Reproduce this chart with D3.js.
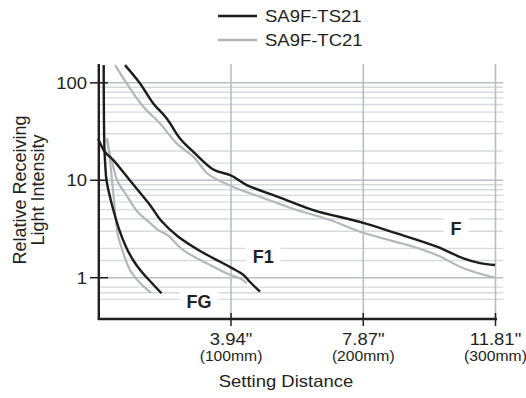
<!DOCTYPE html>
<html><head><meta charset="utf-8">
<script src="https://cdn.jsdelivr.net/npm/d3@7"></script>
<style>
body{margin:0;background:#fff}
svg{display:block}
text{font-family:"Liberation Sans",Arial,Helvetica,sans-serif;fill:#231f20}
</style>
</head><body>
<svg id="chart" width="526" height="398"></svg>
<script>
// ---------- data ----------
const seriesNames = ["SA9F-TS21", "SA9F-TC21"];
const xTickValues = [100, 200, 300];
const xTickInches = ['3.94"', '7.87"', '11.81"'];
const xTickMm = ["(100mm)", "(200mm)", "(300mm)"];
const yTickValues = [1, 10, 100];
const yTickLabels = ["1", "10", "100"];
const yGridValues = [0.6, 0.7, 0.8, 1, 1.5, 2, 3, 4, 5, 6, 7, 8, 9, 10, 15, 20, 30, 40, 50, 60, 70, 80, 90, 100];
const xDomain = [0, 300];
const yDomain = [0.377, 156];

// [setting distance (mm), relative receiving light intensity]
const fTS21 = [[19.8,152],[31.2,98.6],[41.2,61.5],[51.4,43.1],[61.4,26.9],[71.5,19.6],[86.6,12.9],[100,11.2],[111.9,8.93],[137.1,6.65],[162.2,4.95],[200,3.66],[225.3,2.85],[255.6,2.08],[275.7,1.58],[288.3,1.41],[299.7,1.35]];
const fTC21 = [[12.3,152],[21.1,98.6],[33.7,56.7],[46.3,38.3],[58.9,23.9],[71.5,17.4],[82.6,11.6],[100,8.72],[121.9,6.77],[149.7,4.95],[174.9,3.91],[200,2.89],[237.9,2.08],[255.6,1.71],[275.7,1.25],[299.7,1.0]];
const f1TS21 = [[-0.5,26.8],[4.5,19.6],[11.0,16.1],[23.6,9.93],[38.7,5.57],[47.0,3.86],[59.9,2.65],[76.6,1.88],[86.8,1.58],[100,1.27],[109.3,1.07],[114.4,0.904],[121.9,0.718]];
const f1TC21 = [[6.2,26.9],[7.7,20.4],[10.7,14.3],[13.8,10.0],[21.7,6.77],[29.3,4.75],[39.1,3.61],[45.0,3.08],[52.0,2.74],[63.9,1.92],[84.1,1.35],[99.2,1.07],[106.8,0.986],[111.9,0.877]];
const fgTS21 = [[3.7,152],[3.9,41.4],[4.3,20.4],[4.9,14.3],[5.8,10.0],[10.0,5.57],[15.3,3.16],[20.6,2.07],[25.9,1.52],[31.9,1.17],[38.7,0.925],[47.4,0.692]];
const fgTC21 = [[6.2,26.9],[8.1,18.1],[9.6,11.3],[11.1,7.05],[12.6,4.4],[14.1,2.87],[18.3,1.83],[23.6,1.2],[31.2,0.883],[39.5,0.702]];
const curveLabels = ["F", "F1", "FG"];
const curveLabelAnchors = [[270.2, 2.74], [124.4, 1.41], [75.8, 0.489]];

// ---------- drawing ----------
const svg = d3.select("#chart");
const x = d3.scaleLinear().domain(xDomain).range([98.8, 495.5]);
const y = d3.scaleLog().domain(yDomain).range([319, 64]);
const plotTop = y(yDomain[1]), plotBottom = y(yDomain[0]);

function stretch(sel, k) {
  sel.each(function () {
    const w = this.getComputedTextLength();
    d3.select(this).attr("textLength", w * k).attr("lengthAdjust", "spacingAndGlyphs");
  });
}

// horizontal grid
svg.append("g").selectAll("line").data(yGridValues).join("line")
  .attr("x1", x(0)).attr("x2", 503)
  .attr("y1", d => y(d)).attr("y2", d => y(d))
  .attr("stroke", d => yTickValues.includes(d) ? "#b9bec4" : "#d6dadf")
  .attr("stroke-width", d => yTickValues.includes(d) ? 1.6 : 1.4);

// vertical grid
svg.append("g").selectAll("line").data(xTickValues).join("line")
  .attr("x1", d => x(d)).attr("x2", d => x(d))
  .attr("y1", plotTop).attr("y2", plotBottom)
  .attr("stroke", "#b9bec4").attr("stroke-width", 1.6);

// label boxes & labels
const lab = svg.append("g");
curveLabels.forEach((t, i) => {
  const [mx, my] = curveLabelAnchors[i];
  const tx = lab.append("text").text(t)
    .attr("x", x(mx)).attr("y", y(my))
    .attr("text-anchor", "middle")
    .attr("font-size", 18).attr("font-weight", "bold");
  const bb = tx.node().getBBox();
  lab.insert("rect", "text")
    .attr("x", bb.x - 7).attr("y", bb.y - 2)
    .attr("width", bb.width + 14).attr("height", bb.height + 4)
    .attr("fill", "#fff");
});

// curves
const line = d3.line().x(d => x(d[0])).y(d => y(d[1])).curve(d3.curveCatmullRom.alpha(0.5));
svg.append("clipPath").attr("id", "clip").append("rect")
  .attr("x", 90).attr("y", plotTop).attr("width", 420).attr("height", plotBottom - plotTop);
const curves = svg.append("g").attr("clip-path", "url(#clip)");
[fTC21, f1TC21, fgTC21].forEach(d => curves.append("path").datum(d).attr("d", line)
  .attr("fill", "none").attr("stroke", "#b3b7bc").attr("stroke-width", 2.2).attr("stroke-linejoin", "round"));
[fTS21, f1TS21, fgTS21].forEach(d => curves.append("path").datum(d).attr("d", line)
  .attr("fill", "none").attr("stroke", "#1c1c1c").attr("stroke-width", 2.4).attr("stroke-linejoin", "round"));

// axes
const ax = svg.append("g");
ax.append("line").attr("x1", x(0)).attr("x2", x(0)).attr("y1", plotTop).attr("y2", plotBottom + 1)
  .attr("stroke", "#231f20").attr("stroke-width", 2.4);
ax.append("line").attr("x1", x(0) - 1).attr("x2", 497).attr("y1", plotBottom).attr("y2", plotBottom)
  .attr("stroke", "#231f20").attr("stroke-width", 2.4);
ax.selectAll(".yt").data(yTickValues).join("line")
  .attr("x1", 90).attr("x2", 108).attr("y1", d => y(d)).attr("y2", d => y(d))
  .attr("stroke", "#231f20").attr("stroke-width", 1.5);
ax.selectAll(".xt").data(xTickValues).join("line")
  .attr("x1", d => x(d)).attr("x2", d => x(d)).attr("y1", plotBottom - 6).attr("y2", plotBottom + 7)
  .attr("stroke", "#231f20").attr("stroke-width", 1.5);

ax.selectAll(".yl").data(yTickValues).join("text")
  .attr("x", 87).attr("y", d => y(d) + 6).attr("text-anchor", "end")
  .attr("font-size", 16.5).text((d, i) => yTickLabels[i]).call(stretch, 1.12);
ax.selectAll(".xl").data(xTickValues).join("text")
  .attr("x", d => x(d)).attr("y", 345).attr("text-anchor", "middle")
  .attr("font-size", 16.5).text((d, i) => xTickInches[i]).call(stretch, 1.12);
ax.selectAll(".xm").data(xTickValues).join("text")
  .attr("x", d => x(d)).attr("y", 361).attr("text-anchor", "middle")
  .attr("font-size", 14).text((d, i) => xTickMm[i]).call(stretch, 1.12);

svg.append("text").attr("x", 286).attr("y", 387).attr("text-anchor", "middle")
  .attr("font-size", 16.5).text("Setting Distance").call(stretch, 1.12);
const yt = svg.append("text").attr("transform", "translate(0,190) rotate(-90)")
  .attr("text-anchor", "middle").attr("font-size", 18);
yt.append("tspan").attr("x", 0).attr("y", 26).text("Relative Receiving");
yt.append("tspan").attr("x", 0).attr("y", 44).text("Light Intensity");

// legend
const lg = svg.append("g");
seriesNames.forEach((n, i) => {
  const ly = 16 + i * 24;
  lg.append("line").attr("x1", 218).attr("x2", 257).attr("y1", ly).attr("y2", ly)
    .attr("stroke", i === 0 ? "#1c1c1c" : "#b3b7bc").attr("stroke-width", 2.4);
  lg.append("text").attr("x", 265).attr("y", ly + 6).attr("font-size", 16.5).text(n).call(stretch, 1.12);
});
</script>
</body></html>
